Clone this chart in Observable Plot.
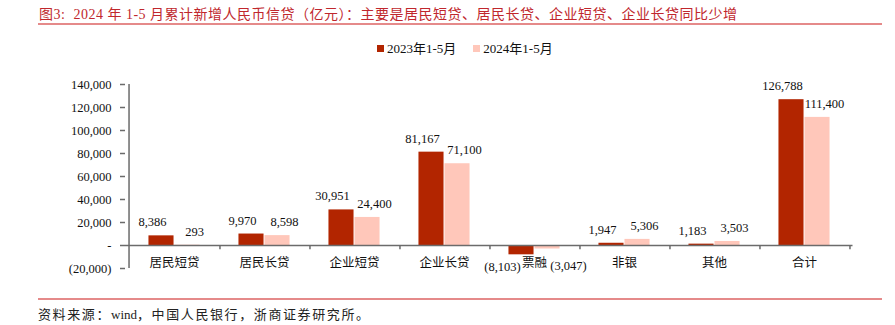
<!DOCTYPE html>
<html>
<head>
<meta charset="utf-8">
<script src="https://cdn.jsdelivr.net/npm/d3@7"></script>
<script src="https://cdn.jsdelivr.net/npm/@observablehq/plot@0.6"></script>
<style>
  html, body { margin: 0; padding: 0; background: #fff; }
  body { width: 895px; height: 325px; position: relative; overflow: hidden;
         font-family: "Liberation Serif", "Noto Sans CJK SC", serif; }
  #title { position: absolute; left: 39px; top: 3px; font-size: 14px; letter-spacing: 0.5px; color: #C0272D; white-space: pre; }
  .rule { position: absolute; left: 38px; width: 844px; height: 2px; background: #E58A8A; }
  #legend { position: absolute; top: 38px; left: 377px; font-size: 13px; color: #111; white-space: nowrap; }
  #legend span.sw { display: inline-block; width: 7px; height: 7px; margin-right: 3px; vertical-align: 1px; }
  #legend span.item { margin-right: 17px; }
  #chart { position: absolute; left: 0; top: 60px; }
  #source { position: absolute; left: 38px; top: 304px; font-size: 13px; letter-spacing: 1.6px; color: #222; white-space: nowrap; }
  #source .latin { letter-spacing: 0; }
</style>
</head>
<body>
<div id="title"></div>
<div class="rule" style="top:23px"></div>
<div id="legend"></div>
<div id="chart"></div>
<div class="rule" style="top:298px"></div>
<div id="source"></div>
<script>
const titleText = "图3:  2024 年 1-5 月累计新增人民币信贷（亿元）：主要是居民短贷、居民长贷、企业短贷、企业长贷同比少增";
const sourceText = "资料来源：wind，中国人民银行，浙商证券研究所。";
const categories = ["居民短贷", "居民长贷", "企业短贷", "企业长贷", "票融", "非银", "其他", "合计"];
const series = ["2023年1-5月", "2024年1-5月"];
const values2023 = [8386, 9970, 30951, 81167, -8103, 1947, 1183, 126788];
const values2024 = [293, 8598, 24400, 71100, -3047, 5306, 3503, 111400];
const yTicks = [-20000, 0, 20000, 40000, 60000, 80000, 100000, 120000, 140000];
const colors = ["#B22500", "#FFC7BA"];

document.getElementById("title").textContent = titleText;
document.getElementById("source").innerHTML = sourceText.replace(/([A-Za-z]+)/g, '<span class="latin">$1</span>');
document.getElementById("legend").innerHTML = series.map((s, i) =>
  `<span class="item"><span class="sw" style="background:${colors[i]}"></span>${s}</span>`).join("");

const data = categories.flatMap((c, i) => [
  {cat: c, series: series[0], value: values2023[i]},
  {cat: c, series: series[1], value: values2024[i]}
]);
const d0 = data.filter(d => d.series === series[0]);
const d1 = data.filter(d => d.series === series[1]);

const W = 895, H = 225, ML = 125, MR = 42.5, MT = 24, MB = 17;
const bw = (W - ML - MR) / categories.length;
const barW = bw * 0.286;
const fmt = d3.format(",");
const lab = v => v < 0 ? `(${fmt(-v)})` : fmt(v);
const yFmt = v => v === 0 ? "-" : v < 0 ? `(${fmt(-v)})` : fmt(v);
const axisColor = "#6b6b6b";
const fontFamily = '"Liberation Serif", "Noto Sans CJK SC", serif';
const txt = {fontSize: 12.5, fill: "#111", lineAnchor: "middle"};

const chart = Plot.plot({
  width: W, height: H,
  marginLeft: ML, marginRight: MR, marginTop: MT, marginBottom: MB,
  style: {fontFamily, fontSize: "12.5px", color: "#111", background: "transparent"},
  x: {domain: categories, padding: 0, axis: null},
  y: {domain: [-20000, 140000], axis: null},
  color: {domain: series, range: colors},
  marks: [
    Plot.barY(d0, {x: "cat", y: "value", fill: "series", insetLeft: bw / 2 - barW, insetRight: bw / 2}),
    Plot.barY(d1, {x: "cat", y: "value", fill: "series", insetLeft: bw / 2, insetRight: bw / 2 - barW}),
    Plot.ruleY([0], {stroke: axisColor, strokeWidth: 1.5}),
    Plot.ruleX(categories, {x: d => d, dx: bw / 2, y1: 0, y2: -3800, stroke: axisColor, strokeWidth: 1.5}),
    Plot.ruleX([categories[0]], {x: d => d, dx: -bw / 2, y1: -20000, y2: 140000, stroke: axisColor, strokeWidth: 1.5}),
    Plot.axisY({ticks: yTicks, tickFormat: yFmt, tickSize: 5, tickPadding: 9, stroke: axisColor, strokeWidth: 1.5,
                fontSize: 12.5, fill: "#111", label: null}),
    Plot.text(d0.filter(d => d.value >= 0), {x: "cat", y: "value", text: d => lab(d.value), dx: -barW / 2 - 9, dy: -13.5, ...txt}),
    Plot.text(d0.filter(d => d.value < 0), {x: "cat", y: "value", text: d => lab(d.value), dx: -barW / 2 - 19, dy: 12, ...txt}),
    Plot.text(d1.filter(d => d.value >= 0), {x: "cat", y: "value", text: d => lab(d.value), dx: barW / 2 + 7, dy: -13.5, ...txt}),
    Plot.text(d1.filter(d => d.value < 0), {x: "cat", y: "value", text: d => lab(d.value), dx: barW / 2 + 21, dy: 17, ...txt}),
    Plot.text(categories, {x: d => d, y: () => 0, text: d => d, dy: 17, ...txt,
                   fontFamily: '"Noto Sans CJK SC", sans-serif'})
  ]
});
document.getElementById("chart").appendChild(chart);
</script>
</body>
</html>
